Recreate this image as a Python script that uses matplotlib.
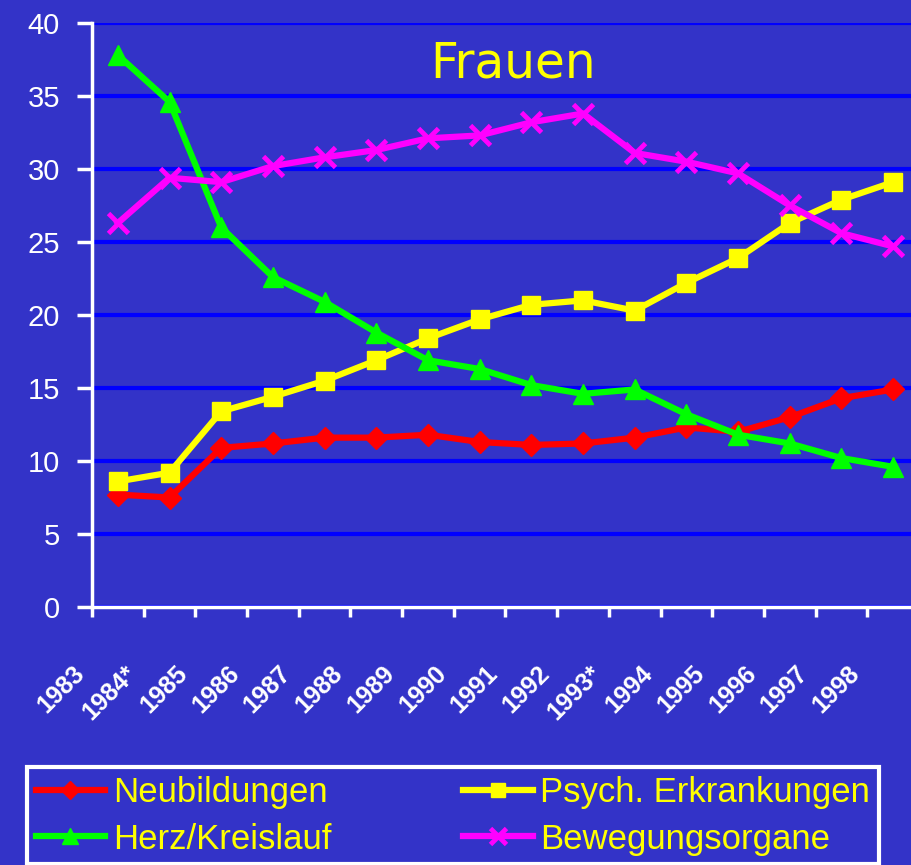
import numpy as np
import matplotlib
matplotlib.use("Agg")
import matplotlib.pyplot as plt
import matplotlib.transforms as mtransforms

# data (Frauen)
years = ["1983", "1984*", "1985", "1986", "1987", "1988", "1989", "1990",
         "1991", "1992", "1993*", "1994", "1995", "1996", "1997", "1998"]
neubildungen = [7.7, 7.5, 10.9, 11.2, 11.6, 11.6, 11.8, 11.3,
                11.1, 11.2, 11.6, 12.3, 12.0, 13.0, 14.3, 14.9]
psych = [8.6, 9.2, 13.4, 14.4, 15.5, 16.9, 18.4, 19.7,
         20.7, 21.0, 20.3, 22.2, 23.9, 26.3, 27.9, 29.1]
herz = [37.8, 34.6, 26.0, 22.6, 20.9, 18.8, 16.9, 16.3,
        15.2, 14.6, 14.9, 13.2, 11.8, 11.2, 10.2, 9.6]
bewegung = [26.3, 29.4, 29.1, 30.2, 30.8, 31.3, 32.1, 32.3,
            33.2, 33.8, 31.1, 30.5, 29.7, 27.5, 25.6, 24.7]

bg = "#3333c8"
sans = ["Liberation Sans", "DejaVu Sans"]

fig = plt.figure(figsize=(9.12, 8.65), dpi=100, facecolor=bg)
ax = fig.add_axes([92 / 912, 1 - 607 / 865, 827 / 912, 584 / 865])
ax.set_facecolor(bg)

x = np.arange(len(years))

l1, = ax.plot(x, neubildungen, color="#ff0000", lw=4.5, marker="D",
              ms=11, label="Neubildungen", zorder=3)
l2, = ax.plot(x, psych, color="#ffff00", lw=4.5, marker="s",
              ms=13, label="Psych. Erkrankungen", zorder=3)
l3, = ax.plot(x, herz, color="#00ff00", lw=4.5, marker="^",
              ms=14, label="Herz/Kreislauf", zorder=3)
l4, = ax.plot(x, bewegung, color="#ff00ff", lw=4.5, marker="x",
              ms=14, mew=3.5, label="Bewegungsorgane", zorder=3)

ax.set_yticks(np.arange(0, 41, 5))
ax.yaxis.grid(True, color="#0000ff", lw=3)
ax.set_axisbelow(True)

# tick marks on the category boundaries, year label hangs left of its mark
ax.set_xticks(x - 0.5)
ax.set_xticklabels(years, rotation=45, ha="right", va="top",
                   rotation_mode="anchor", family=sans, fontsize=18,
                   fontweight="bold", color="white")
ax.set_xlim(-0.5, len(years) - 0.5)
ax.set_ylim(0, 40)

for s in ["top", "right"]:
    ax.spines[s].set_visible(False)
for s in ["left", "bottom"]:
    ax.spines[s].set_color("white")
    ax.spines[s].set_linewidth(2.5)

ax.tick_params(axis="x", direction="out", length=7, width=2.5,
               color="white", pad=32)
ax.tick_params(axis="y", direction="out", length=11, width=2.5,
               color="white", labelcolor="white", labelsize=21, pad=12)
for lab in ax.get_yticklabels():
    lab.set_family(sans)

# shift after tick_params, which would reset the label transform
shift = mtransforms.ScaledTranslation(-0.20, 0, fig.dpi_scale_trans)
for lab in ax.get_xticklabels():
    lab.set_transform(lab.get_transform() + shift)

ax.text(0.509, 0.93, "Frauen", transform=ax.transAxes, ha="center",
        va="center", color="#ffff00", fontsize=35, family="DejaVu Sans")

leg = fig.legend(handles=[l1, l3, l2, l4], ncol=2, loc="upper left",
                 bbox_to_anchor=(27 / 912, 1 - 767 / 865),
                 fancybox=False, facecolor=bg,
                 edgecolor="white", framealpha=1, handlelength=2.0,
                 handletextpad=0.22, borderaxespad=0, borderpad=0.25,
                 labelspacing=0.4, columnspacing=3.8,
                 prop={"family": sans, "size": 25}, labelcolor="#ffff00",
                 markerscale=0.8)
leg.get_frame().set_linewidth(3)

fig.savefig("out.png", dpi=100, facecolor=bg)
